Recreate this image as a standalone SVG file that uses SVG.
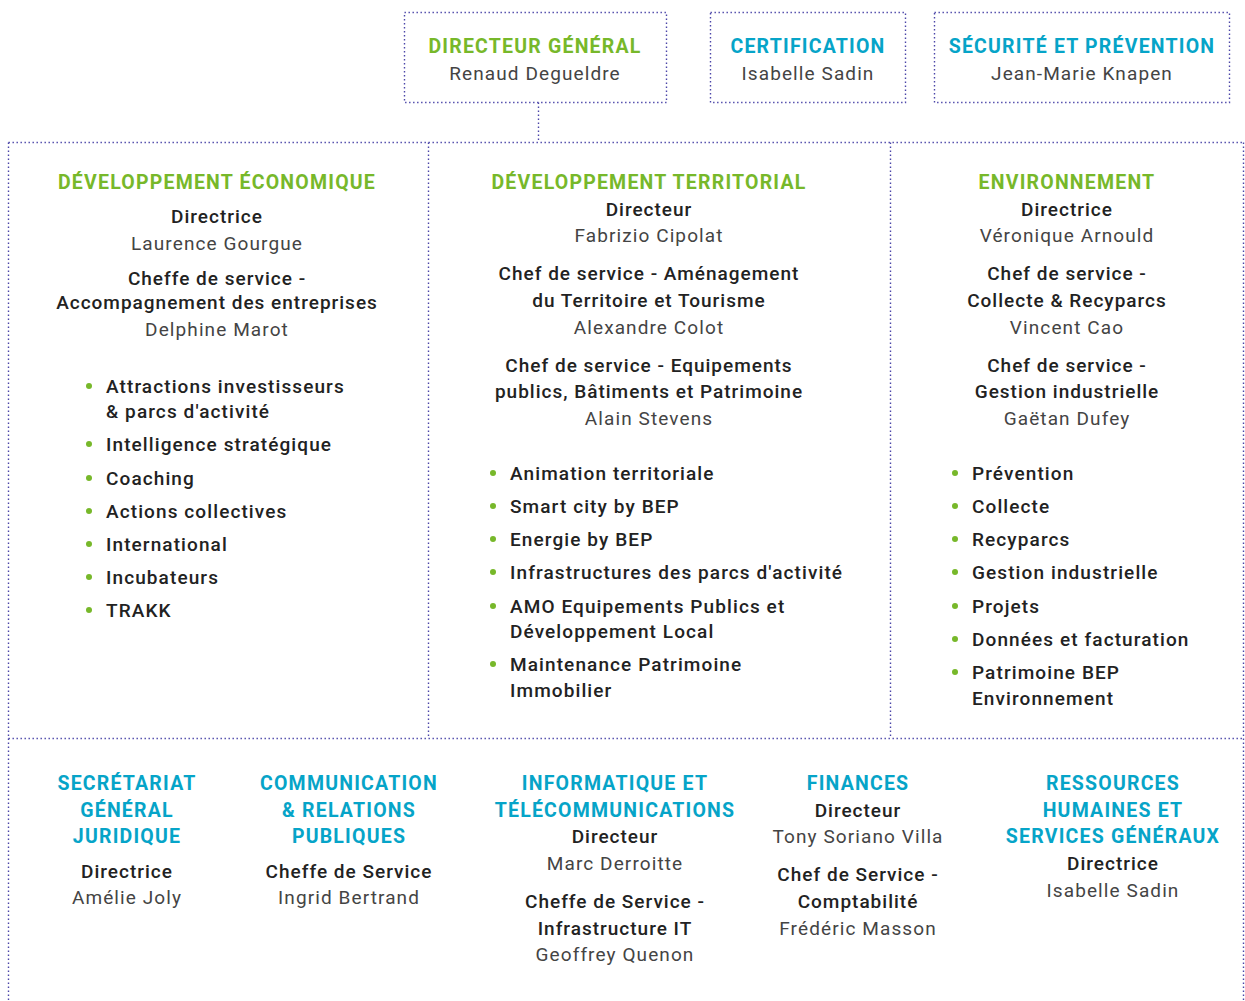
<svg xmlns="http://www.w3.org/2000/svg" width="1245" height="1001" viewBox="0 0 1245 1001">
<style>
.ln{fill:none;stroke:#4b45a8;stroke-width:1.4;stroke-dasharray:1.4 2.6}
text{font-family:Roboto,"Liberation Sans",sans-serif;text-anchor:middle}
.tg{fill:#77b82a;font-weight:700;font-size:19.5px;letter-spacing:1.2px}
.tc{fill:#06a4c8;font-weight:700;font-size:19.5px;letter-spacing:1.2px}
.r{fill:#222;font-weight:500;font-size:19px;letter-spacing:1px}
.n{fill:#444;font-weight:400;font-size:19px;letter-spacing:1.1px}
.b{fill:#222;font-weight:500;font-size:19px;letter-spacing:1.1px;text-anchor:start}
.dot{fill:#77b82a}
</style>
<rect width="1245" height="1001" fill="#fff"/>
<g id="connectors">
<rect class="ln" x="404.5" y="12.5" width="262" height="90"/>
<rect class="ln" x="710.5" y="12.5" width="195" height="90"/>
<rect class="ln" x="934.5" y="12.5" width="295" height="90"/>
<path class="ln" d="M538.5 102.5V142.5M8.5 142.5H1243.5M8.5 142.5V1001M1243.5 142.5V1001M428.5 142.5V738.5M890.5 142.5V738.5M8.5 738.5H1243.5"/>
</g>
<g id="dg"><text class="tg" x="535" y="53">DIRECTEUR GÉNÉRAL</text><text class="n" x="535" y="80">Renaud Degueldre</text></g>
<g id="certif"><text class="tc" x="808" y="53">CERTIFICATION</text><text class="n" x="808" y="80">Isabelle Sadin</text></g>
<g id="securite"><text class="tc" x="1082" y="53">SÉCURITÉ ET PRÉVENTION</text><text class="n" x="1082" y="80">Jean-Marie Knapen</text></g>
<g id="dev-eco">
<text class="tg" x="217" y="189">DÉVELOPPEMENT ÉCONOMIQUE</text>
<text class="r" x="217" y="223">Directrice</text>
<text class="n" x="217" y="250">Laurence Gourgue</text>
<text class="r" x="217" y="285">Cheffe de service -</text>
<text class="r" x="217" y="309">Accompagnement des entreprises</text>
<text class="n" x="217" y="336">Delphine Marot</text>
<circle class="dot" cx="89" cy="386" r="3"/><text class="b" x="106" y="393">Attractions investisseurs</text><text class="b" x="106" y="418">&amp; parcs d'activité</text>
<circle class="dot" cx="89" cy="444" r="3"/><text class="b" x="106" y="451">Intelligence stratégique</text>
<circle class="dot" cx="89" cy="478" r="3"/><text class="b" x="106" y="485">Coaching</text>
<circle class="dot" cx="89" cy="511" r="3"/><text class="b" x="106" y="518">Actions collectives</text>
<circle class="dot" cx="89" cy="544" r="3"/><text class="b" x="106" y="551">International</text>
<circle class="dot" cx="89" cy="577" r="3"/><text class="b" x="106" y="584">Incubateurs</text>
<circle class="dot" cx="89" cy="610" r="3"/><text class="b" x="106" y="617">TRAKK</text>
</g>
<g id="dev-terr">
<text class="tg" x="649" y="189">DÉVELOPPEMENT TERRITORIAL</text>
<text class="r" x="649" y="216">Directeur</text>
<text class="n" x="649" y="242">Fabrizio Cipolat</text>
<text class="r" x="649" y="280">Chef de service - Aménagement</text>
<text class="r" x="649" y="307">du Territoire et Tourisme</text>
<text class="n" x="649" y="334">Alexandre Colot</text>
<text class="r" x="649" y="372">Chef de service - Equipements</text>
<text class="r" x="649" y="398">publics, Bâtiments et Patrimoine</text>
<text class="n" x="649" y="425">Alain Stevens</text>
<circle class="dot" cx="493" cy="473" r="3"/><text class="b" x="510" y="480">Animation territoriale</text>
<circle class="dot" cx="493" cy="506" r="3"/><text class="b" x="510" y="513">Smart city by BEP</text>
<circle class="dot" cx="493" cy="539" r="3"/><text class="b" x="510" y="546">Energie by BEP</text>
<circle class="dot" cx="493" cy="572" r="3"/><text class="b" x="510" y="579">Infrastructures des parcs d'activité</text>
<circle class="dot" cx="493" cy="606" r="3"/><text class="b" x="510" y="613">AMO Equipements Publics et</text><text class="b" x="510" y="638">Développement Local</text>
<circle class="dot" cx="493" cy="664" r="3"/><text class="b" x="510" y="671">Maintenance Patrimoine</text><text class="b" x="510" y="697">Immobilier</text>
</g>
<g id="environnement">
<text class="tg" x="1067" y="189">ENVIRONNEMENT</text>
<text class="r" x="1067" y="216">Directrice</text>
<text class="n" x="1067" y="242">Véronique Arnould</text>
<text class="r" x="1067" y="280">Chef de service -</text>
<text class="r" x="1067" y="307">Collecte &amp; Recyparcs</text>
<text class="n" x="1067" y="334">Vincent Cao</text>
<text class="r" x="1067" y="372">Chef de service -</text>
<text class="r" x="1067" y="398">Gestion industrielle</text>
<text class="n" x="1067" y="425">Gaëtan Dufey</text>
<circle class="dot" cx="955" cy="473" r="3"/><text class="b" x="972" y="480">Prévention</text>
<circle class="dot" cx="955" cy="506" r="3"/><text class="b" x="972" y="513">Collecte</text>
<circle class="dot" cx="955" cy="539" r="3"/><text class="b" x="972" y="546">Recyparcs</text>
<circle class="dot" cx="955" cy="572" r="3"/><text class="b" x="972" y="579">Gestion industrielle</text>
<circle class="dot" cx="955" cy="606" r="3"/><text class="b" x="972" y="613">Projets</text>
<circle class="dot" cx="955" cy="639" r="3"/><text class="b" x="972" y="646">Données et facturation</text>
<circle class="dot" cx="955" cy="672" r="3"/><text class="b" x="972" y="679">Patrimoine BEP</text><text class="b" x="972" y="705">Environnement</text>
</g>
<g id="secretariat">
<text class="tc" x="127" y="790">SECRÉTARIAT</text><text class="tc" x="127" y="817">GÉNÉRAL</text><text class="tc" x="127" y="843">JURIDIQUE</text>
<text class="r" x="127" y="878">Directrice</text><text class="n" x="127" y="904">Amélie Joly</text>
</g>
<g id="communication">
<text class="tc" x="349" y="790">COMMUNICATION</text><text class="tc" x="349" y="817">&amp; RELATIONS</text><text class="tc" x="349" y="843">PUBLIQUES</text>
<text class="r" x="349" y="878">Cheffe de Service</text><text class="n" x="349" y="904">Ingrid Bertrand</text>
</g>
<g id="informatique">
<text class="tc" x="615" y="790">INFORMATIQUE ET</text><text class="tc" x="615" y="817">TÉLÉCOMMUNICATIONS</text>
<text class="r" x="615" y="843">Directeur</text><text class="n" x="615" y="870">Marc Derroitte</text>
<text class="r" x="615" y="908">Cheffe de Service -</text><text class="r" x="615" y="935">Infrastructure IT</text><text class="n" x="615" y="961">Geoffrey Quenon</text>
</g>
<g id="finances">
<text class="tc" x="858" y="790">FINANCES</text>
<text class="r" x="858" y="817">Directeur</text><text class="n" x="858" y="843">Tony Soriano Villa</text>
<text class="r" x="858" y="881">Chef de Service -</text><text class="r" x="858" y="908">Comptabilité</text><text class="n" x="858" y="935">Frédéric Masson</text>
</g>
<g id="rh">
<text class="tc" x="1113" y="790">RESSOURCES</text><text class="tc" x="1113" y="817">HUMAINES ET</text><text class="tc" x="1113" y="843">SERVICES GÉNÉRAUX</text>
<text class="r" x="1113" y="870">Directrice</text><text class="n" x="1113" y="897">Isabelle Sadin</text>
</g>
</svg>
